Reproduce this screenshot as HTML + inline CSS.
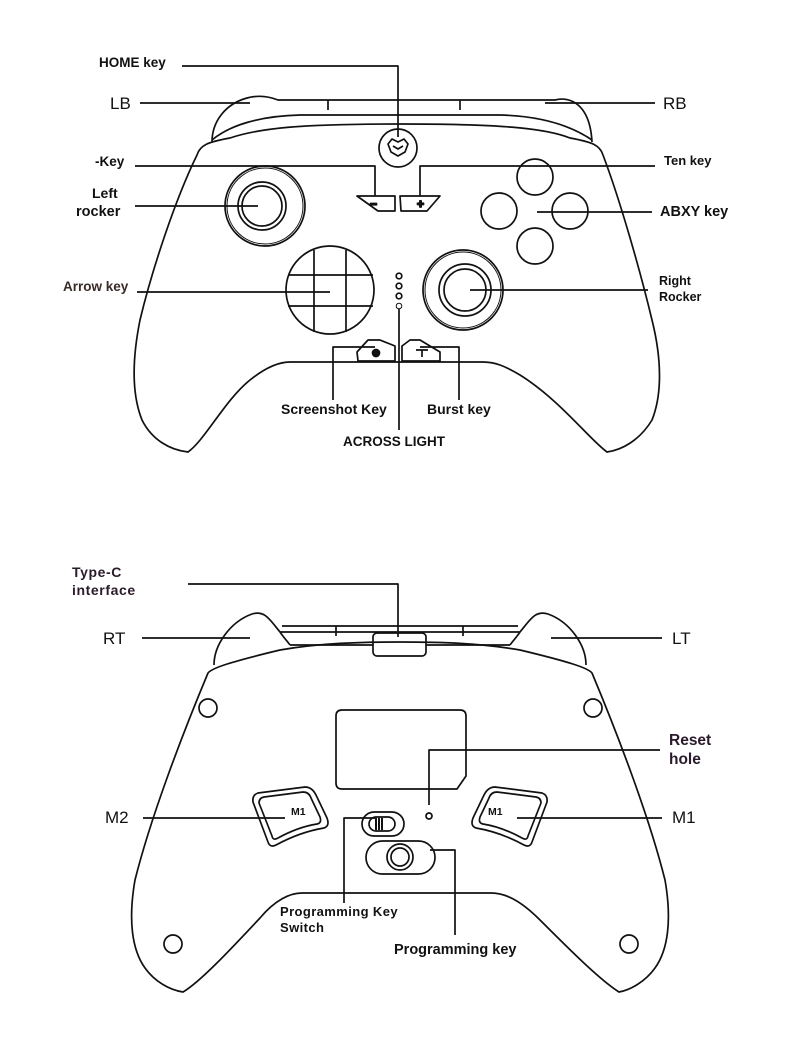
<!DOCTYPE html>
<html><head><meta charset="utf-8"><style>
html,body{margin:0;padding:0;background:#fff;}
svg{display:block}
text{font-family:"Liberation Sans",sans-serif;font-weight:bold;fill:#111;}
</style></head><body>
<svg width="790" height="1060" viewBox="0 0 790 1060" xmlns="http://www.w3.org/2000/svg">
<g fill="none" stroke="#111" stroke-width="1.7" stroke-linejoin="round">
<!-- TOP CONTROLLER -->
<path d="M212,142 C212,122 225,104 247,98 C258,95 268,96 278,100 L555,100 C570,96 590,104 592,142"/>
<path d="M328,100 L328,110 M460,100 L460,110"/>
<path d="M212,140 C230,125 260,116 300,115 L500,115 C540,116 570,125 592,140"/>
<path d="M197,155 C200,145 208,142 230,138 C260,128 300,124 400,124 C500,124 545,128 570,138 C592,142 600,145 603,155
 C620,200 640,270 652,320 C662,360 662,395 652,420 C640,440 622,450 607,452
 C590,440 560,400 520,375 C505,366 495,362 483,362 L290,362 C278,362 265,368 250,380 C225,400 205,440 188,452
 C170,450 152,440 142,420 C132,395 132,360 140,320 C152,270 175,200 197,155 Z"/>
<circle cx="398" cy="148" r="19"/>
<path d="M388,144 L392,139 L398,142 L404,139 L408,144 L405,152 L398,156 L391,152 Z M393,146 L398,149 L403,146"/>
<circle cx="265" cy="206" r="40"/><circle cx="265" cy="206" r="38" stroke-width="1"/>
<circle cx="262" cy="206" r="24"/><circle cx="262" cy="206" r="20"/>
<path d="M357,196 L395,196 L395,211 L378,211 Z" /><text x="370" y="208" style="font-size:12px">−</text>
<path d="M400,196 L440,196 L427,211 L401,211 Z"/><text x="417" y="208" style="font-size:12px">+</text>
<circle cx="535" cy="177" r="18"/><circle cx="499" cy="211" r="18"/><circle cx="570" cy="211" r="18"/><circle cx="535" cy="246" r="18"/>
<circle cx="330" cy="290" r="44"/>
<path d="M314,250 L314,332 M346,250 L346,332 M288,275 L373,275 M288,306 L373,306"/>
<circle cx="399" cy="276" r="2.8"/><circle cx="399" cy="286" r="2.8"/><circle cx="399" cy="296" r="2.8"/><circle cx="399" cy="306" r="2.8" stroke-width="1"/>
<circle cx="463" cy="290" r="40"/><circle cx="463" cy="290" r="38" stroke-width="1"/>
<circle cx="465" cy="290" r="26"/><circle cx="465" cy="290" r="21"/>
<path d="M357,352 L368,340 L380,340 L395,346 L395,361 L358,361 Z"/><circle cx="376" cy="353" r="3.5" fill="#111"/>
<path d="M402,346 L410,340 L420,340 L440,352 L440,361 L402,361 Z"/><path d="M416,350 L428,350 M422,350 L422,357"/>
<!-- leader lines top -->
<path d="M182,66 L398,66 L398,137"/>
<path d="M140,103 L250,103 M545,103 L655,103"/>
<path d="M135,166 L375,166 L375,196 M655,166 L420,166 L420,196"/>
<path d="M135,206 L258,206 M537,212 L652,212 M137,292 L330,292 M470,290 L648,290"/>
<path d="M333,400 L333,347 L375,347 M459,400 L459,347 L420,347 M399,309 L399,430"/>
<!-- BOTTOM CONTROLLER -->
<path d="M214,665 C214,645 230,622 252,614 C265,610 270,620 280,632 C284,638 288,642 290,645"/>
<path d="M586,665 C586,645 570,622 548,614 C535,610 530,620 520,632 C516,638 512,642 510,645"/>
<path d="M280,632 L520,632 M282,626 L518,626 M336,626 L336,636 M463,626 L463,636"/>
<path d="M290,645 L373,645 M426,645 L510,645"/>
<rect x="373" y="633" width="53" height="23" rx="4"/>
<path d="M208,673 C212,668 230,662 280,650 C320,643 360,642 400,642 C440,642 480,643 520,650 C570,662 588,668 592,673
 C620,740 650,820 665,880 C672,920 668,950 655,968 C645,982 630,990 619,992
 C600,980 570,950 540,920 C520,900 505,893 491,893 L302,893 C290,893 275,900 260,918 C230,950 200,982 183,992
 C170,990 155,982 145,968 C132,950 128,920 135,880 C150,820 180,740 208,673 Z"/>
<circle cx="208" cy="708" r="9"/><circle cx="593" cy="708" r="9"/><circle cx="173" cy="944" r="9"/><circle cx="629" cy="944" r="9"/>
<path d="M342,710 L460,710 Q466,710 466,716 L466,776 L457,789 L342,789 Q336,789 336,783 L336,716 Q336,710 342,710 Z"/>
<circle cx="429" cy="816" r="3"/>
<rect x="362" y="812" width="42" height="24" rx="12"/>
<rect x="369" y="817" width="26" height="14" rx="7"/>
<path d="M376,818 L376,830 M379,818 L379,830 M382,818 L382,830" stroke-width="2"/>
<rect x="366" y="841" width="69" height="33" rx="16.5"/>
<circle cx="400" cy="857" r="13"/><circle cx="400" cy="857" r="9"/>
<path d="M253,802 Q252,795 258,793 L305,787 Q312,787 316,795 L327,818 Q330,826 324,828 Q300,832 276,845 Q270,848 268,842 Z"/>
<path d="M259,803 Q259,798 264,797 L303,792 Q309,792 311,798 L320,817 Q322,823 317,824 Q298,827 278,838 Q273,841 272,836 Z"/>
<path d="M547,802 Q548,795 542,793 L495,787 Q488,787 484,795 L473,818 Q470,826 476,828 Q500,832 524,845 Q530,848 532,842 Z"/>
<path d="M541,803 Q541,798 536,797 L497,792 Q491,792 489,798 L480,817 Q478,823 483,824 Q502,827 522,838 Q527,841 528,836 Z"/>
<!-- leader lines bottom -->
<path d="M188,584 L398,584 L398,637"/>
<path d="M142,638 L250,638 M551,638 L662,638"/>
<path d="M429,805 L429,750 L660,750"/>
<path d="M143,818 L285,818 M517,818 L662,818"/>
<path d="M344,903 L344,818 L375,818"/>
<path d="M430,850 L455,850 L455,935"/>
</g>
<g>
<text x="99" y="67" style="font-size:13.5px">HOME key</text>
<text x="110" y="109" style="font-size:17px;font-weight:normal">LB</text>
<text x="663" y="109" style="font-size:17px;font-weight:normal">RB</text>
<text x="95" y="166" style="font-size:13.5px">-Key</text>
<text x="664" y="165" style="font-size:13px">Ten key</text>
<text x="92" y="198" style="font-size:14px">Left</text>
<text x="76" y="216" style="font-size:14.5px">rocker</text>
<text x="660" y="216" style="font-size:14.5px">ABXY key</text>
<text x="63" y="291" style="font-size:13.5px;fill:#3a2a2a">Arrow key</text>
<text x="659" y="285" style="font-size:12.5px">Right</text>
<text x="659" y="301" style="font-size:12.5px">Rocker</text>
<text x="281" y="414" style="font-size:14px">Screenshot Key</text>
<text x="427" y="414" style="font-size:14px">Burst key</text>
<text x="343" y="446" style="font-size:13.5px">ACROSS LIGHT</text>
<text x="72" y="577" style="font-size:14px;letter-spacing:0.6px;fill:#2a1a2a">Type-C</text>
<text x="72" y="595" style="font-size:14px;letter-spacing:0.6px;fill:#2a1a2a">interface</text>
<text x="103" y="644" style="font-size:17px;font-weight:normal">RT</text>
<text x="672" y="644" style="font-size:17px;font-weight:normal">LT</text>
<text x="669" y="745" style="font-size:15.5px;fill:#2a1a2a">Reset</text>
<text x="669" y="764" style="font-size:15.5px;fill:#2a1a2a">hole</text>
<text x="105" y="823" style="font-size:17px;font-weight:normal">M2</text>
<text x="672" y="823" style="font-size:17px;font-weight:normal">M1</text>
<text x="291" y="815" style="font-size:10.5px">M1</text>
<text x="488" y="815" style="font-size:10.5px">M1</text>
<text x="280" y="916" style="font-size:13px;letter-spacing:0.4px">Programming Key</text>
<text x="280" y="932" style="font-size:13px;letter-spacing:0.4px">Switch</text>
<text x="394" y="954" style="font-size:14.5px">Programming key</text>
</g>
</svg>
</body></html>
